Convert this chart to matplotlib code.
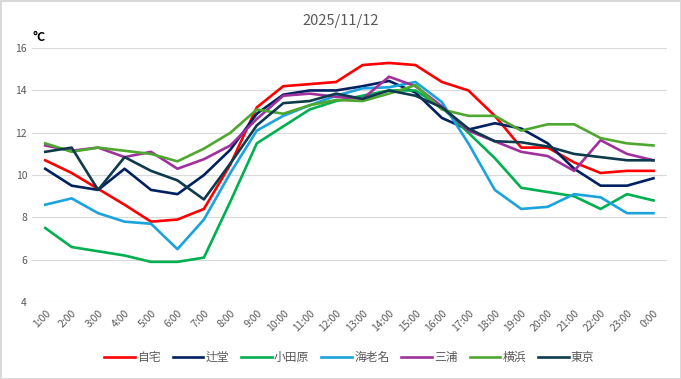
import matplotlib
matplotlib.use("Agg")
import matplotlib.pyplot as plt

plt.rcParams["font.family"] = ["Noto Sans CJK JP", "DejaVu Sans"]

# hours on the x axis
hours = [f"{h}:00" for h in range(1, 24)] + ["0:00"]

# temperatures (degC)
jitaku = [10.7, 10.1, 9.35, 8.6, 7.8, 7.9, 8.4, 10.5, 13.2, 14.2, 14.3, 14.4,
          15.2, 15.3, 15.2, 14.4, 14.0, 12.8, 11.3, 11.3, 10.6, 10.1, 10.2, 10.2]
tsujido = [10.3, 9.5, 9.3, 10.3, 9.3, 9.1, 10.0, 11.2, 12.9, 13.8, 14.0, 14.0,
           14.2, 14.45, 13.9, 12.7, 12.15, 12.45, 12.2, 11.5, 10.3, 9.5, 9.5, 9.85]
odawara = [7.5, 6.6, 6.4, 6.2, 5.9, 5.9, 6.1, 8.75, 11.5, 12.3, 13.1, 13.5,
           13.75, 14.0, 14.0, 13.2, 12.0, 10.8, 9.4, 9.2, 9.0, 8.4, 9.1, 8.8]
ebina = [8.6, 8.9, 8.2, 7.8, 7.7, 6.5, 7.9, 10.1, 12.1, 12.8, 13.3, 13.75,
         14.1, 14.15, 14.4, 13.45, 11.5, 9.3, 8.4, 8.5, 9.1, 8.95, 8.2, 8.2]
miura = [11.4, 11.15, 11.3, 10.85, 11.1, 10.3, 10.75, 11.4, 12.65, 13.75, 13.85, 13.7,
         13.6, 14.65, 14.2, 13.25, 12.1, 11.6, 11.1, 10.9, 10.2, 11.65, 11.0, 10.7]
yokohama = [11.5, 11.1, 11.3, 11.15, 11.0, 10.65, 11.25, 12.0, 13.1, 12.9, 13.3, 13.55,
            13.5, 13.85, 14.25, 13.1, 12.8, 12.8, 12.1, 12.4, 12.4, 11.75, 11.5, 11.4]
tokyo = [11.1, 11.3, 9.3, 10.85, 10.2, 9.75, 8.85, 10.55, 12.35, 13.4, 13.5, 13.85,
         13.6, 14.0, 13.75, 13.2, 12.2, 11.6, 11.55, 11.35, 11.0, 10.85, 10.7, 10.7]

series = [
    ("自宅", jitaku, "#FF0000"),
    ("辻堂", tsujido, "#002060"),
    ("小田原", odawara, "#00B050"),
    ("海老名", ebina, "#1AA3DC"),
    ("三浦", miura, "#A0309C"),
    ("横浜", yokohama, "#4EA72E"),
    ("東京", tokyo, "#0E3A4D"),
]

fig = plt.figure(figsize=(6.81, 3.79), dpi=100)
fig.patch.set_edgecolor("#D9D9D9")
fig.patch.set_linewidth(1.0)
ax = fig.add_axes([0.047, 0.203, 0.932, 0.670])

x = range(len(hours))
for name, vals, color in series:
    ax.plot(x, vals, color=color, lw=1.9, label=name, solid_joinstyle="round")

ax.set_xlim(-0.5, len(hours) - 0.5)
ax.set_ylim(4, 16)
ax.set_yticks(range(4, 17, 2))
ax.set_xticks(list(x))
ax.set_xticklabels(hours, rotation=45, ha="right", rotation_mode="anchor")
ax.grid(axis="y", color="#D9D9D9", lw=0.8)
ax.set_axisbelow(True)
for sp in ax.spines.values():
    sp.set_visible(False)
ax.tick_params(axis="both", length=0, labelsize=7.5, labelcolor="#595959")
ax.tick_params(axis="x", pad=4)

fig.text(0.5, 0.945, "2025/11/12", ha="center", va="center", fontsize=10.5, color="#595959")
fig.text(0.048, 0.902, "°C", ha="left", va="center", fontsize=9, color="black",
         fontweight="bold")

ax.legend(loc="center", bbox_to_anchor=(0.5, -0.218), ncol=7, frameon=False,
          fontsize=8.5, labelcolor="#595959", handlelength=2.6, handletextpad=0.2,
          columnspacing=1.0)

fig.savefig("out.png", dpi=100)
